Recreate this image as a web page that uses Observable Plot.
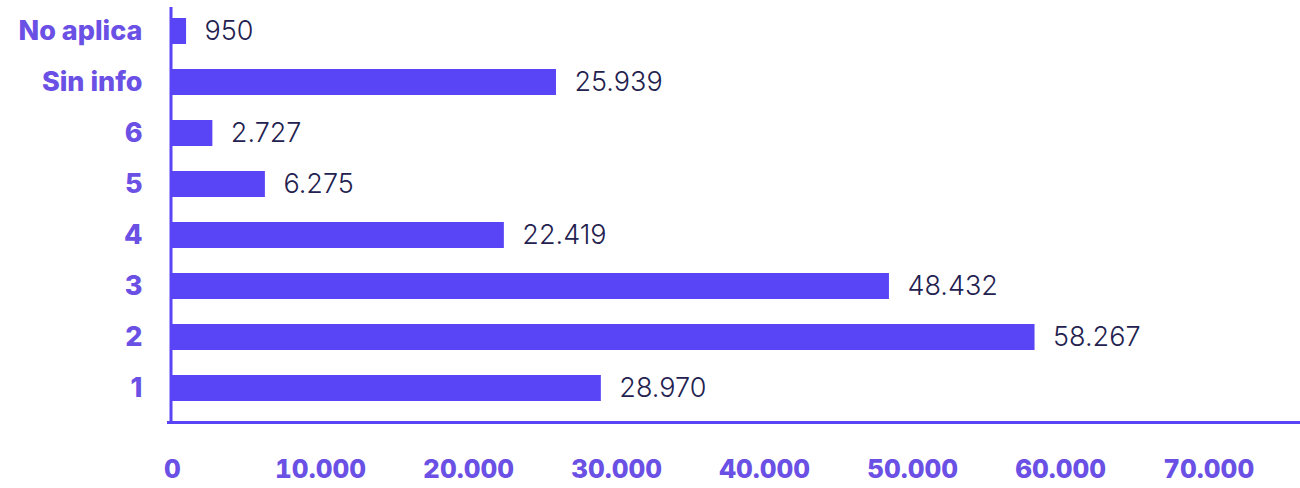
<!DOCTYPE html>
<html><head><meta charset="utf-8">
<script src="https://cdn.jsdelivr.net/npm/d3@7"></script>
<script src="https://cdn.jsdelivr.net/npm/@observablehq/plot@0.6"></script>
<style>
body{margin:0;background:#fff;}
#chart svg{font-family:Inter, "Noto Sans", sans-serif;}
</style>
</head><body><div id="chart"></div>
<script>
const categories = ["No aplica", "Sin info", "6", "5", "4", "3", "2", "1"];
const values = [950, 25939, 2727, 6275, 22419, 48432, 58267, 28970];
const xTicks = [0, 10000, 20000, 30000, 40000, 50000, 60000, 70000];

const barColor = "#5a45f6";
const axisColor = "#6a50e4";
const valueColor = "#23214f";

const data = categories.map((c, i) => ({cat: c, value: values[i]}));
const fmt = d3.formatLocale({decimal: ",", thousands: ".", grouping: [3], currency: ["", ""]}).format(",d");

const plot = Plot.plot({
  width: 1300,
  height: 488,
  marginLeft: 172,
  marginRight: 0,
  marginTop: 12,
  marginBottom: 80.5,
  style: {background: "#fff", fontFamily: "Inter, 'Noto Sans', sans-serif"},
  x: {domain: [0, 76200], label: null},
  y: {domain: categories, paddingInner: 0.49, paddingOuter: 0.1, label: null},
  marks: [
    Plot.barX(data, {x: "value", y: "cat", fill: barColor}),
    Plot.ruleX([0], {stroke: barColor, strokeWidth: 3, dx: -1.5, insetTop: -5, insetBottom: -16}),
    Plot.frame({anchor: "bottom", stroke: barColor, strokeWidth: 3, dy: 14.5, insetLeft: -4}),
    Plot.text(data, {
      x: "value", y: "cat", text: d => fmt(d.value),
      textAnchor: "start", dx: 18, fill: valueColor,
      fontSize: 27, fontWeight: 300
    }),
    Plot.axisY({tickSize: 0, tickPadding: 30, fontSize: 27, fontWeight: 800, color: axisColor, label: null}),
    Plot.axisX({ticks: xTicks, tickFormat: fmt, tickSize: 0, tickPadding: 52, fontSize: 26, fontWeight: 800, color: axisColor, label: null})
  ]
});
document.getElementById("chart").appendChild(plot);
</script>
</body></html>
